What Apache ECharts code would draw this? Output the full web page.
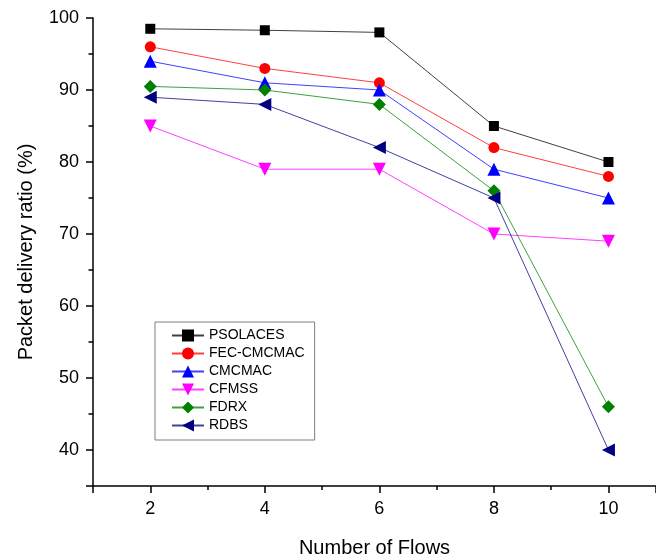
<!DOCTYPE html>
<html><head><meta charset="utf-8">
<script src="https://cdn.jsdelivr.net/npm/echarts@6/dist/echarts.min.js"></script>
<style>html,body{margin:0;padding:0;background:#fff}#c{width:656px;height:558px}</style>
</head><body><div id="c"></div>
<script>
const flows = [2, 4, 6, 8, 10];
const seriesNames = ['PSOLACES', 'FEC-CMCMAC', 'CMCMAC', 'CFMSS', 'FDRX', 'RDBS'];
const psolaces = [98.5, 98.3, 98, 85, 80];
const fecCmcmac = [96, 93, 91, 82, 78];
const cmcmac = [94, 91, 90, 79, 75];
const cfmss = [85, 79, 79, 70, 69];
const fdrx = [90.5, 90, 88, 76, 46];
const rdbs = [89, 88, 82, 75, 40];
const yTickLabels = [40, 50, 60, 70, 80, 90, 100];
const xTickLabels = [2, 4, 6, 8, 10];

const values = [psolaces, fecCmcmac, cmcmac, cfmss, fdrx, rdbs];
const colors = ['#000000', '#ff0000', '#0000ff', '#ff00ff', '#008000', '#000080'];
const symbols = ['rect', 'circle', 'triangle', 'triangle', 'diamond', 'triangle'];
const rotations = [0, 0, 0, 180, 0, 90];
const sizes = [10, 11, 13, 13, 13, 13];
const FONT = '"Liberation Sans", Arial, sans-serif';

const chart = echarts.init(document.getElementById('c'), null, {renderer: 'canvas'});
chart.setOption({
  backgroundColor: '#ffffff',
  animation: false,
  grid: {left: 93, top: 18, width: 563, height: 468, containLabel: false, outerBoundsMode: 'none'},
  xAxis: {
    type: 'value', min: 1, max: 10.83, minInterval: 2, maxInterval: 2,
    name: 'Number of Flows', nameLocation: 'middle', nameGap: 52,
    nameTextStyle: {fontFamily: FONT, fontSize: 20, color: '#000'},
    axisLine: {lineStyle: {color: '#000', width: 1.5}},
    axisTick: {inside: false, length: 7, lineStyle: {color: '#000', width: 1.5}},
    minorTick: {show: true, splitNumber: 2, length: 4, lineStyle: {color: '#000', width: 1.5}},
    axisLabel: {fontFamily: FONT, fontSize: 18, color: '#000', margin: 14,
      formatter: v => xTickLabels.includes(v) ? String(v) : ''},
    splitLine: {show: false}
  },
  yAxis: {
    type: 'value', min: 35, max: 100, minInterval: 10, maxInterval: 10,
    name: 'Packet delivery ratio (%)', nameLocation: 'middle', nameGap: 57, nameRotate: 90,
    nameTextStyle: {fontFamily: FONT, fontSize: 20, color: '#000'},
    axisLine: {show: true, lineStyle: {color: '#000', width: 1.5}},
    axisTick: {show: true, inside: false, length: 7, lineStyle: {color: '#000', width: 1.5}},
    minorTick: {show: true, splitNumber: 2, length: 4.5, lineStyle: {color: '#000', width: 1.5}},
    axisLabel: {fontFamily: FONT, fontSize: 18, color: '#000', margin: 14,
      formatter: v => yTickLabels.includes(v) ? String(v) : ''},
    splitLine: {show: false}
  },
  legend: {
    orient: 'vertical', left: 155, top: 322,
    padding: [6, 10, 7, 16], itemGap: 3, itemWidth: 32, itemHeight: 15,
    backgroundColor: '#fff', borderColor: '#7f7f7f', borderWidth: 1,
    textStyle: {fontFamily: FONT, fontSize: 14, color: '#000', lineHeight: 15},
    data: seriesNames
  },
  series: seriesNames.map((n, i) => ({
    name: n, type: 'line',
    data: flows.map((f, j) => [f, values[i][j]]),
    symbol: symbols[i], symbolRotate: rotations[i], symbolSize: sizes[i],
    lineStyle: {color: colors[i], width: 1, opacity: 0.75},
    itemStyle: {color: colors[i], opacity: 1},
    emphasis: {disabled: true}
  }))
});
</script></body></html>
